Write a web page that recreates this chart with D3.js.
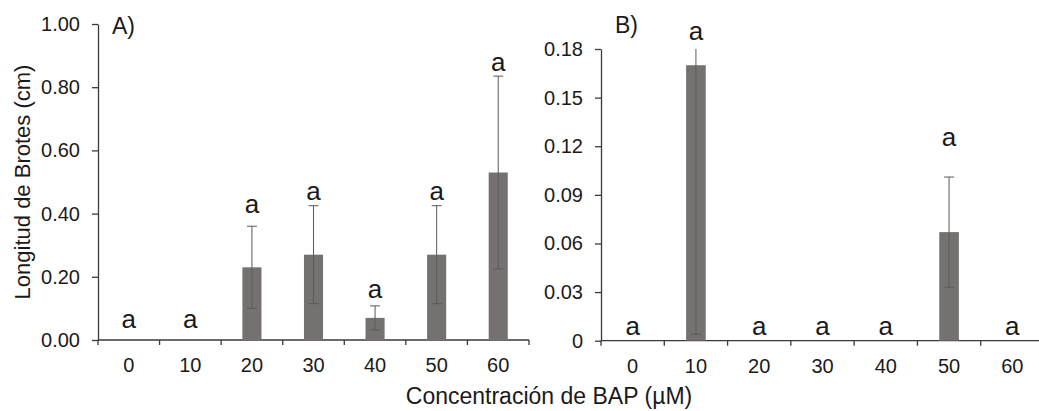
<!DOCTYPE html>
<html>
<head>
<meta charset="utf-8">
<script src="https://cdn.jsdelivr.net/npm/d3@7/dist/d3.min.js"></script>
<style>
  html, body { margin: 0; padding: 0; background: #fff; }
  svg { display: block; }
  text { font-family: "Liberation Sans", Arial, sans-serif; fill: #1a1a1a; }
</style>
</head>
<body>
<svg id="chart" width="1039" height="411"></svg>
<script>
// BAP concentrations (µM)
const categories = ["0", "10", "20", "30", "40", "50", "60"];

// Panel A: shoot length means and error
const meanA = [0, 0, 0.23, 0.27, 0.07, 0.27, 0.53];
const errA = [0, 0, 0.13, 0.155, 0.038, 0.155, 0.305];
const lettersA = ["a", "a", "a", "a", "a", "a", "a"];
const ticksA = [0, 0.2, 0.4, 0.6, 0.8, 1.0];
const tickLabelsA = ["0.00", "0.20", "0.40", "0.60", "0.80", "1.00"];

// Panel B: shoot length means and error
const meanB = [0, 0.17, 0, 0, 0, 0.067, 0];
const errB = [0, 0.166, 0, 0, 0, 0.034, 0];
const lettersB = ["a", "a", "a", "a", "a", "a", "a"];
const ticksB = [0, 0.03, 0.06, 0.09, 0.12, 0.15, 0.18];
const tickLabelsB = ["0", "0.03", "0.06", "0.09", "0.12", "0.15", "0.18"];

const svg = d3.select("#chart");
const BAR = "#767171", ERR = "#5a5a5a", AXIS = "#3a3a3a";

function panel(cfg) {
  const x = d3.scaleBand().domain(categories).range(cfg.xRange).padding(0);
  const y = d3.scaleLinear().domain([0, cfg.yMax]).range(cfg.yRange);
  const g = svg.append("g");
  const bw = x.bandwidth() * 0.31;

  // y axis
  const yAxis = d3.axisLeft(y).tickValues(cfg.ticks)
    .tickFormat((d, i) => cfg.tickLabels[i])
    .tickSize(6).tickSizeOuter(0).tickPadding(12);
  const ya = g.append("g").attr("transform", `translate(${cfg.xRange[0]},0)`).call(yAxis);
  ya.selectAll("path,line").attr("stroke", AXIS).attr("stroke-width", 1.3);
  ya.selectAll("text").style("font-size", "20px").attr("fill", "#1a1a1a");

  // x axis labels centred in each band
  const xAxis = d3.axisBottom(x).tickSize(0).tickSizeOuter(0).tickPadding(18);
  const xa = g.append("g").attr("transform", `translate(0,${y(0)})`).call(xAxis);
  xa.select(".domain").remove();
  xa.selectAll("text").style("font-size", "20px").attr("fill", "#1a1a1a");

  // x baseline and band boundary ticks
  g.append("line")
    .attr("x1", cfg.xRange[0]).attr("x2", cfg.xRange[1])
    .attr("y1", y(0)).attr("y2", y(0))
    .attr("stroke", AXIS).attr("stroke-width", 1.3);
  const bounds = d3.range(categories.length + 1).map(i => x.range()[0] + i * x.step());
  g.selectAll(".btick").data(bounds).join("line")
    .attr("x1", d => d).attr("x2", d => d)
    .attr("y1", y(0)).attr("y2", y(0) + 5)
    .attr("stroke", AXIS).attr("stroke-width", 1.3);

  const rows = categories.map((c, i) => ({ c, i, m: cfg.mean[i], e: cfg.err[i], l: cfg.letters[i] }));

  // bars
  g.selectAll(".bar").data(rows.filter(d => d.m > 0)).join("rect")
    .attr("x", d => x(d.c) + x.bandwidth() / 2 - bw / 2)
    .attr("width", bw)
    .attr("y", d => y(d.m))
    .attr("height", d => y(0) - y(d.m))
    .attr("fill", BAR);

  // error bars (clipped at the axis maximum, as the plot area ends there)
  rows.filter(d => d.e > 0).forEach(d => {
    const cx = x(d.c) + x.bandwidth() / 2;
    const hi = Math.min(d.m + d.e, cfg.yMax), lo = Math.max(d.m - d.e, 0);
    g.append("line").attr("x1", cx).attr("x2", cx)
      .attr("y1", y(hi)).attr("y2", y(lo))
      .attr("stroke", ERR).attr("stroke-width", 1);
    const caps = [lo];
    if (d.m + d.e <= cfg.yMax) caps.push(hi);
    caps.forEach(v => {
      g.append("line").attr("x1", cx - 5).attr("x2", cx + 5)
        .attr("y1", y(v)).attr("y2", y(v))
        .attr("stroke", ERR).attr("stroke-width", 1);
    });
  });

  // significance letters
  g.selectAll(".letter").data(rows).join("text")
    .attr("x", d => x(d.c) + x.bandwidth() / 2)
    .attr("y", d => {
      if (d.m === 0) return y(0) - cfg.zeroGap;
      const top = Math.min(d.m + d.e, cfg.yMax);
      return y(top) - cfg.letterGap[d.i];
    })
    .attr("text-anchor", "middle")
    .style("font-size", "26px")
    .text(d => d.l);

  // panel tag
  g.append("text").attr("x", cfg.xRange[0] + 14).attr("y", cfg.tagY)
    .style("font-size", "23px").text(cfg.tag);
}

panel({
  xRange: [98, 529], yRange: [340, 24], yMax: 1.0,
  ticks: ticksA, tickLabels: tickLabelsA,
  mean: meanA, err: errA, letters: lettersA,
  zeroGap: 12, letterGap: [0, 0, 13, 6, 8, 6, 5],
  tag: "A)", tagY: 34
});

panel({
  xRange: [601, 1044], yRange: [340.7, 49], yMax: 0.18,
  ticks: ticksB, tickLabels: tickLabelsB,
  mean: meanB, err: errB, letters: lettersB,
  zeroGap: 5.5, letterGap: [0, 9, 0, 0, 0, 31, 0],
  tag: "B)", tagY: 33
});

// axis titles
svg.append("text")
  .attr("transform", "translate(30,182) rotate(-90)")
  .attr("text-anchor", "middle")
  .style("font-size", "22px")
  .text("Longitud de Brotes (cm)");

svg.append("text")
  .attr("x", 549).attr("y", 404)
  .attr("text-anchor", "middle")
  .style("font-size", "23px")
  .text("Concentración de BAP (µM)");
</script>
</body>
</html>
